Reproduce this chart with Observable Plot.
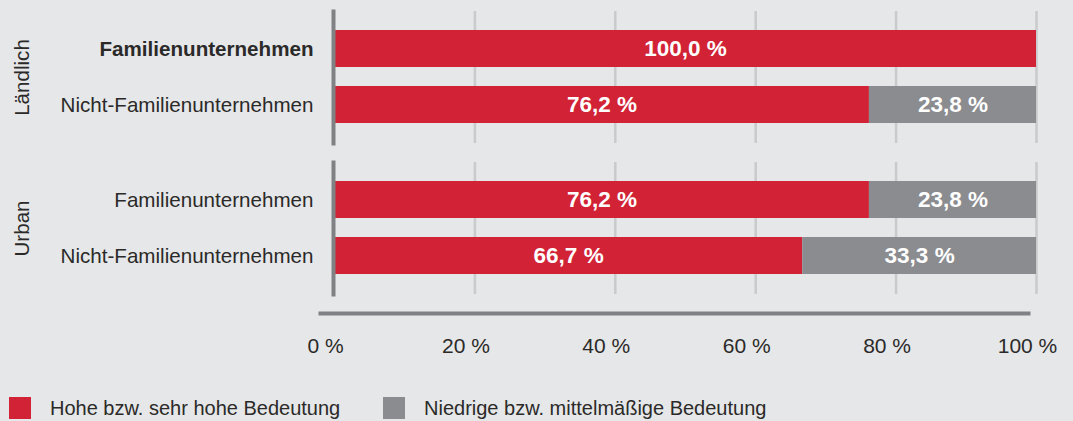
<!DOCTYPE html>
<html>
<head>
<meta charset="utf-8">
<script src="https://cdn.jsdelivr.net/npm/d3@7"></script>
<script src="https://cdn.jsdelivr.net/npm/@observablehq/plot@0.6"></script>
<style>
  html, body { margin: 0; padding: 0; background: #e6e7e8; }
  body { width: 1073px; height: 421px; overflow: hidden; font-family: "Liberation Sans", Arial, sans-serif; color: #2b2a29; }
  #legend { display: flex; align-items: center; margin-top: 33px; padding-left: 9px; font-size: 20px; line-height: 22px; }
  .item { display: flex; align-items: center; }
  .sw { width: 22px; height: 22px; margin-right: 19px; flex: none; }
</style>
</head>
<body>
<div id="chart"></div>
<div id="legend"></div>
<script>
const groups = ["Ländlich", "Ländlich", "Urban", "Urban"];
const categories = ["Familienunternehmen", "Nicht-Familienunternehmen", "Familienunternehmen", "Nicht-Familienunternehmen"];
const highlighted = [true, false, false, false];
const hoheValues = [100.0, 76.2, 76.2, 66.7];
const niedrigeValues = [0.0, 23.8, 23.8, 33.3];
const seriesNames = ["Hohe bzw. sehr hohe Bedeutung", "Niedrige bzw. mittelmäßige Bedeutung"];
const seriesColors = ["#d12335", "#8b8c8f"];
const xTicks = [0, 20, 40, 60, 80, 100];
const groupNames = ["Ländlich", "Urban"];
const categoryNames = ["Familienunternehmen", "Nicht-Familienunternehmen"];

const seriesValues = [hoheValues, niedrigeValues];
const table = [];
categories.forEach((c, i) => {
  seriesNames.forEach((s, j) => {
    table.push({group: groups[i], category: c, series: s, value: seriesValues[j][i]});
  });
});
const rows = categories.map((c, i) => ({group: groups[i], category: c, bold: highlighted[i]}));
const fmt = v => v.toFixed(1).replace(".", ",") + " %";
const font = "'Liberation Sans', Arial, sans-serif";

const chart = Plot.plot({
  width: 1073,
  height: 364,
  marginTop: 11,
  marginLeft: 334,
  marginRight: 37,
  marginBottom: 70,
  style: {background: "transparent", fontFamily: font, fontSize: "20px", color: "#2b2a29"},
  x: {domain: [0, 100], axis: null},
  y: {domain: categoryNames, paddingInner: 1/3, paddingOuter: 0.325, axis: null},
  fy: {domain: groupNames, paddingInner: 0.126, paddingOuter: 0, axis: null},
  color: {domain: seriesNames, range: seriesColors},
  marks: [
    Plot.gridX(xTicks.filter(d => d > 0), {stroke: "#c9cacc", strokeWidth: 2.5, strokeOpacity: 1}),
    Plot.barX(table, {x: "value", y: "category", fy: "group", fill: "series", z: "series", order: seriesNames}),
    Plot.frame({anchor: "left", stroke: "#808184", strokeWidth: 4, dx: -1}),
    Plot.text(table.filter(d => d.value > 0), Plot.stackX({
      x: "value", y: "category", fy: "group", z: "series", order: seriesNames,
      text: d => fmt(d.value), fill: "white", fontWeight: "bold", fontSize: 22.5
    })),
    Plot.text(rows.filter(d => !d.bold), {y: "category", fy: "group", frameAnchor: "left", dx: -21, textAnchor: "end", text: "category", fill: "#2b2a29", fontSize: 20.6}),
    Plot.text(rows.filter(d => d.bold), {y: "category", fy: "group", frameAnchor: "left", dx: -21, textAnchor: "end", text: "category", fill: "#2b2a29", fontSize: 20.6, fontWeight: "bold"}),
    Plot.text(groupNames, {fy: d => d, y: () => categoryNames[0], dy: 28.5, frameAnchor: "left", dx: -312, rotate: -90, textAnchor: "middle", text: d => d, fill: "#2b2a29", fontSize: 20.6}),
    Plot.frame({anchor: "bottom", facetAnchor: "bottom", dy: 19, stroke: "#808184", strokeWidth: 4, insetLeft: -14, insetRight: 8}),
    Plot.axisX({ticks: xTicks, tickSize: 0, tickPadding: 44, dx: -9, tickFormat: d => d + " %", fontSize: 21, fill: "#2b2a29", label: null})
  ]
});
document.getElementById("chart").appendChild(chart);

const legend = document.getElementById("legend");
seriesNames.forEach((s, i) => {
  const item = document.createElement("div");
  item.className = "item";
  if (i === 0) item.style.width = "374px";
  const sw = document.createElement("span");
  sw.className = "sw";
  sw.style.background = seriesColors[i];
  const t = document.createElement("span");
  t.textContent = s;
  item.appendChild(sw);
  item.appendChild(t);
  legend.appendChild(item);
});
</script>
</body>
</html>
